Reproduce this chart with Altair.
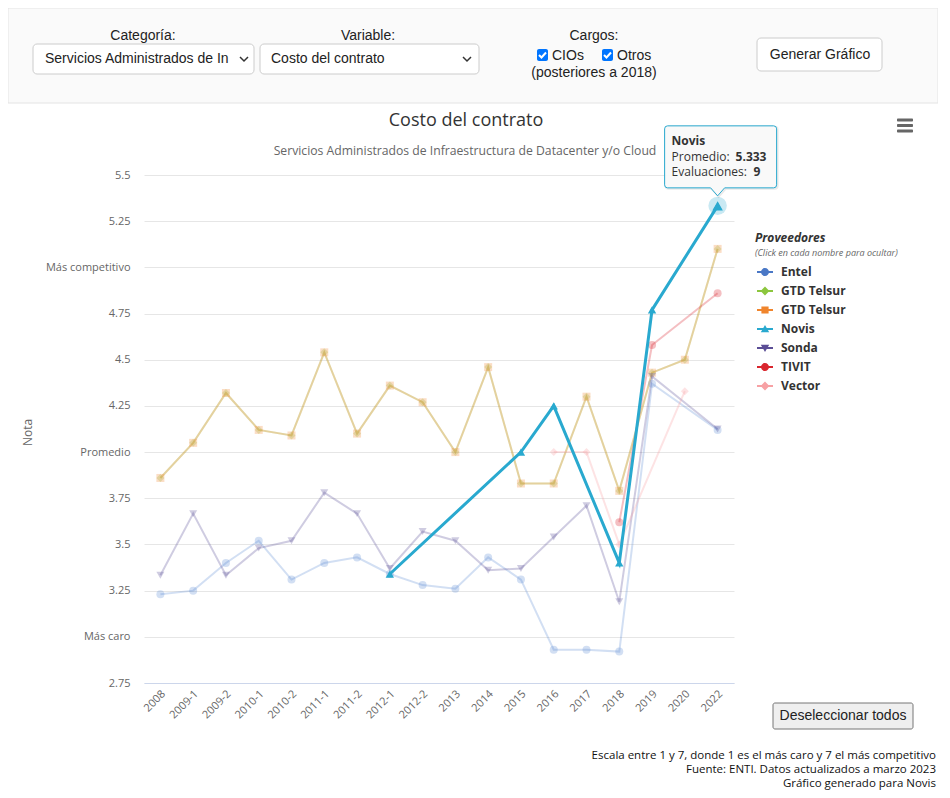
import altair as alt
import pandas as pd

# ---------------- data ----------------
categorias = ["2008", "2009-1", "2009-2", "2010-1", "2010-2", "2011-1", "2011-2",
              "2012-1", "2012-2", "2013", "2014", "2015", "2016", "2017", "2018",
              "2019", "2020", "2022"]
N = None
entel = [3.23, 3.25, 3.40, 3.52, 3.31, 3.40, 3.43, 3.34, 3.28, 3.26, 3.43, 3.31,
         2.93, 2.93, 2.92, 4.37, N, 4.12]
# the green GTD Telsur series lies exactly under the orange one in the picture
gtd_telsur_verde = [3.86, 4.05, 4.32, 4.12, 4.09, 4.54, 4.10, 4.36, 4.27, 4.00, 4.46, 3.83,
                    3.83, 4.30, 3.79, 4.43, 4.50, 5.10]
gtd_telsur_naranja = [3.86, 4.05, 4.32, 4.12, 4.09, 4.54, 4.10, 4.36, 4.27, 4.00, 4.46, 3.83,
                      3.83, 4.30, 3.79, 4.43, 4.50, 5.10]
novis = [N, N, N, N, N, N, N, 3.34, N, N, N, 4.00, 4.25, N, 3.40, 4.77, N, 5.333]
sonda = [3.333, 3.667, 3.333, 3.48, 3.52, 3.78, 3.667, 3.37, 3.57, 3.52, 3.36, 3.37,
         3.54, 3.71, 3.19, 4.41, N, 4.125]
tivit = [N, N, N, N, N, N, N, N, N, N, N, N, N, N, 3.62, 4.58, N, 4.86]
vector = [N, N, N, N, N, N, N, N, N, N, N, N, 4.00, 4.00, 3.50, N, 4.33, N]
novis_evaluaciones_2022 = 9

claves = ["Entel", "GTD Telsur", "GTD Telsur 2", "Novis", "Sonda", "TIVIT", "Vector"]
series = [entel, gtd_telsur_verde, gtd_telsur_naranja, novis, sonda, tivit, vector]
y_ticks = [2.75, 3.0, 3.25, 3.5, 3.75, 4.0, 4.25, 4.5, 4.75, 5.0, 5.25, 5.5]

# ---------------- styles ----------------
colores = ["#4a78c6", "#8cc63e", "#f0852d", "#29a9cf", "#5b4e96", "#d9262e", "#f7a1a4"]
faded_colores = ["#5a8ad4", "#8cc63e", "#f0852d", "#29a9cf", "#5b4e96", "#d9262e", "#f7a1a4"]
formas = ["circle", "diamond", "square", "triangle-up", "triangle-down", "circle", "diamond"]
opacidades = [0.27, 0.3, 0.32, 1.0, 0.28, 0.35, 0.3]
# legend symbols: line + marker (unit coordinates)
BAR = "M-2,-0.25 H2 V0.25 H-2 Z "
leg_paths = [
    BAR + "M0,-1 A1,1 0 1,1 0,1 A1,1 0 1,1 0,-1 Z",
    BAR + "M0,-1.1 L1.1,0 L0,1.1 L-1.1,0 Z",
    BAR + "M-0.9,-0.9 H0.9 V0.9 H-0.9 Z",
    BAR + "M0,-1 L1.05,0.8 L-1.05,0.8 Z",
    BAR + "M-1.05,-0.8 H1.05 L0,1 Z",
    BAR + "M0,-1 A1,1 0 1,1 0,1 A1,1 0 1,1 0,-1 Z",
    BAR + "M0,-1.1 L1.1,0 L0,1.1 L-1.1,0 Z",
]
FONT = "Open Sans"
UIF = "Liberation Sans"
OX, OY = 144, 175          # page position of plot origin
W, H = 590, 508


def X(p):
    return p - OX


def Y(p):
    return p - OY


rows = []
for k, vals in zip(claves, series):
    for i, (c, v) in enumerate(zip(categorias, vals)):
        if v is not None:
            rows.append({"serie": k, "cat": c, "valor": v, "orden": i})
df = pd.DataFrame(rows)
df_f = df[df["serie"] != "Novis"]
df_n = df[df["serie"] == "Novis"]
df_h = df_n[df_n["cat"] == "2022"].copy()
df_h["evaluaciones"] = novis_evaluaciones_2022

one = pd.DataFrame({"k": [0]})

y_label_expr = ("datum.value == 3 ? 'Más caro' : datum.value == 4 ? 'Promedio' : "
                "datum.value == 5 ? 'Más competitivo' : datum.value + ''")

x_enc = alt.X("cat:O",
              scale=alt.Scale(type="point", domain=categorias, padding=0.5),
              axis=alt.Axis(title=None, labelAngle=315, labelAlign="right",
                            labelBaseline="middle", labelPadding=9, labelOffset=3,
                            labelFont=FONT, labelFontSize=11, labelColor="#666666",
                            domainColor="#ccd6eb", domainWidth=1, ticks=False,
                            grid=False))
y_enc = alt.Y("valor:Q",
              scale=alt.Scale(domain=[2.75, 5.5], nice=False, zero=False),
              axis=alt.Axis(values=y_ticks, labelExpr=y_label_expr, title="Nota",
                            titleX=X(27), titleY=Y(432), titleAngle=270,
                            titleBaseline="middle", titleAlign="center",
                            titleFont=FONT, titleFontSize=12, titleFontWeight="normal",
                            titleColor="#666666", labelFont=FONT, labelFontSize=11,
                            labelColor="#666666", labelPadding=14, domain=False,
                            ticks=False, grid=True, gridColor="#e6e6e6", gridWidth=1))

col_f = alt.Color("serie:N", scale=alt.Scale(domain=claves, range=faded_colores), legend=None)
op_f = alt.Opacity("serie:N", scale=alt.Scale(domain=claves, range=opacidades), legend=None)
sh_f = alt.Shape("serie:N", scale=alt.Scale(domain=claves, range=formas), legend=None)

faded_lines = alt.Chart(df_f).mark_line(strokeWidth=2).encode(
    x=x_enc, y=y_enc, color=col_f, opacity=op_f, detail="serie:N", order="orden:Q")
faded_pts = alt.Chart(df_f).mark_point(filled=True, size=64).encode(
    x=x_enc, y=y_enc, color=col_f, opacity=op_f, shape=sh_f)

novis_line = alt.Chart(df_n).mark_line(strokeWidth=3, color=colores[3], opacity=1).encode(
    x=x_enc, y=y_enc, order="orden:Q")
novis_pts = alt.Chart(df_n).mark_point(filled=True, shape="triangle-up", size=70,
                                       color=colores[3], opacity=1).encode(x=x_enc, y=y_enc)
halo = alt.Chart(df_h).mark_point(filled=True, shape="circle", size=340,
                                  color=colores[3], opacity=0.25).encode(x=x_enc, y=y_enc)
hover_pt = alt.Chart(df_h).mark_point(filled=True, shape="triangle-up", size=110,
                                      color=colores[3], opacity=1).encode(x=x_enc, y=y_enc)

callout_path = ("M-50,-80 H56 Q59,-80 59,-77 V-21 Q59,-18 56,-18 H7 L0,-10 L-7,-18 "
                "H-50 Q-53,-18 -53,-21 V-77 Q-53,-80 -50,-80 Z")
shadow_path = ("M-49,-79 H57 Q60,-79 60,-76 V-20 Q60,-17 57,-17 H8 L1,-9 L-6,-17 "
               "H-49 Q-52,-17 -52,-20 V-76 Q-52,-79 -49,-79 Z")
shadow = alt.Chart(df_h).mark_point(shape=shadow_path, size=4, filled=False,
                                    stroke="#000000", strokeWidth=2, opacity=0.08).encode(
    x=x_enc, y=y_enc)
callout = alt.Chart(df_h).mark_point(shape=callout_path, size=4, filled=True,
                                     fill="#f9f9f9", stroke=colores[3], strokeWidth=1,
                                     opacity=1, fillOpacity=0.95).encode(x=x_enc, y=y_enc)
TDX = -46
tt1 = alt.Chart(df_h).mark_text(align="left", baseline="middle", dx=TDX, dy=-65,
                                font=FONT, fontSize=12, fontWeight="bold",
                                color="#333333").encode(x=x_enc, y=y_enc, text="serie:N")
tt2a = alt.Chart(df_h).mark_text(align="left", baseline="middle", dx=TDX, dy=-49,
                                 font=FONT, fontSize=12, color="#333333",
                                 text="Promedio:").encode(x=x_enc, y=y_enc)
tt2b = alt.Chart(df_h).mark_text(align="left", baseline="middle", dx=TDX + 64, dy=-49,
                                 font=FONT, fontSize=12, fontWeight="bold",
                                 color="#333333").encode(
    x=x_enc, y=y_enc, text=alt.Text("valor:Q", format=".3f"))
tt3a = alt.Chart(df_h).mark_text(align="left", baseline="middle", dx=TDX, dy=-34,
                                 font=FONT, fontSize=12, color="#333333",
                                 text="Evaluaciones:").encode(x=x_enc, y=y_enc)
tt3b = alt.Chart(df_h).mark_text(align="left", baseline="middle", dx=TDX + 82, dy=-34,
                                 font=FONT, fontSize=12, fontWeight="bold",
                                 color="#333333").encode(
    x=x_enc, y=y_enc, text="evaluaciones:Q")

leg = alt.Legend(title="Proveedores", orient="none", legendX=X(755), legendY=Y(233),
                 titleFont=FONT, titleFontSize=12, titleFontStyle="italic",
                 titleFontWeight="bold", titleColor="#333333", titlePadding=21,
                 labelFont=FONT, labelFontSize=12, labelFontWeight="bold",
                 labelColor="#333333", symbolSize=64, symbolOffset=4, labelOffset=10,
                 rowPadding=7, symbolStrokeWidth=0, symbolOpacity=1,
                 labelExpr="datum.label == 'GTD Telsur 2' ? 'GTD Telsur' : datum.label")
leg_df = pd.DataFrame({"Proveedores": claves})
legend_layer = alt.Chart(leg_df).mark_point(filled=True, opacity=1).encode(
    color=alt.Color("Proveedores:N", scale=alt.Scale(domain=claves, range=colores), legend=leg),
    shape=alt.Shape("Proveedores:N", scale=alt.Scale(domain=claves, range=leg_paths), legend=leg),
).transform_filter("false")


# ---------------- page decorations (text, controls) ----------------
def texto(s, xp, yp, size=12, color="#333333", align="left", bold=False,
          italic=False, font=FONT):
    return alt.Chart(one).mark_text(
        text=s, align=align, baseline="middle", fontSize=size, color=color, font=font,
        fontWeight="bold" if bold else "normal",
        fontStyle="italic" if italic else "normal").encode(
        x=alt.value(X(xp)), y=alt.value(Y(yp)))


def caja(x1, y1, x2, y2, fill, stroke=None, r=0, sw=1):
    kw = dict(fill=fill, cornerRadius=r)
    if stroke is not None:
        kw["stroke"] = stroke
        kw["strokeWidth"] = sw
    return alt.Chart(one).mark_rect(**kw).encode(
        x=alt.value(X(x1)), x2=alt.value(X(x2)), y=alt.value(Y(y1)), y2=alt.value(Y(y2)))


def trazo(path, xp, yp, color, sw=1.5):
    return alt.Chart(one).mark_point(shape=path, size=4, filled=False, stroke=color,
                                     strokeWidth=sw, opacity=1).encode(
        x=alt.value(X(xp)), y=alt.value(Y(yp)))


deco = [
    caja(8, 8, 938, 103, "#fafafa", "#e4e4e4"),
    texto("Categoría:", 143, 36, 14, "#222222", "center", font=UIF),
    caja(33, 44, 254, 74, "#ffffff", "#cccccc", 4),
    texto("Servicios Administrados de In", 45, 59, 14, "#222222", font=UIF),
    trazo("M-4,-2 L0,2 L4,-2", 244, 59, "#333333"),
    texto("Variable:", 368, 36, 14, "#222222", "center", font=UIF),
    caja(260, 44, 479, 74, "#ffffff", "#cccccc", 4),
    texto("Costo del contrato", 271, 59, 14, "#222222", font=UIF),
    trazo("M-4,-2 L0,2 L4,-2", 467, 59, "#333333"),
    texto("Cargos:", 594, 36, 14, "#222222", "center", font=UIF),
    caja(537, 49, 548, 61, "#0075ff", r=2),
    trazo("M-3.5,0 L-1,2.5 L3.5,-2.5", 542.5, 55, "#ffffff", 2),
    texto("CIOs", 552, 56, 14, "#222222", font=UIF),
    caja(602, 49, 613, 61, "#0075ff", r=2),
    trazo("M-3.5,0 L-1,2.5 L3.5,-2.5", 607.5, 55, "#ffffff", 2),
    texto("Otros", 617, 56, 14, "#222222", font=UIF),
    texto("(posteriores a 2018)", 594, 73, 14, "#222222", "center", font=UIF),
    caja(757, 38, 882, 71, "#ffffff", "#cccccc", 4),
    texto("Generar Gráfico", 820, 55, 14, "#222222", "center", font=UIF),
    texto("Costo del contrato", 466, 121, 18, "#333333", "center"),
    texto("Servicios Administrados de Infraestructura de Datacenter y/o Cloud", 465, 151,
          12.2, "#666666", "center"),
    caja(897, 118.5, 913, 121.5, "#666666", r=1),
    caja(897, 124, 913, 127, "#666666", r=1),
    caja(897, 129.5, 913, 132.5, "#666666", r=1),
    texto("(Click en cada nombre para ocultar)", 755, 253, 9, "#666666", italic=True),
    caja(773, 703, 913, 729, "#efefef", "#767676", 2),
    texto("Deseleccionar todos", 843, 716, 14, "#222222", "center", font=UIF),
    texto("Escala entre 1 y 7, donde 1 es el más caro y 7 el más competitivo", 936, 756,
          11.5, "#111111", "right"),
    texto("Fuente: ENTI. Datos actualizados a marzo 2023", 936, 770, 11.5, "#111111", "right"),
    texto("Gráfico generado para Novis", 936, 784, 11.5, "#111111", "right"),
]

chart = alt.layer(
    deco[0], faded_lines, faded_pts, novis_line, novis_pts, halo, hover_pt,
    shadow, callout, tt1, tt2a, tt2b, tt3a, tt3b, legend_layer, *deco[1:]
).resolve_scale(
    color="independent", shape="independent", opacity="independent"
).properties(
    width=W, height=H,
    autosize=alt.AutoSizeParams(type="none"),
    padding={"left": OX - 8, "top": OY - 8, "right": 930 - (OX - 8) - W,
             "bottom": 782 - (OY - 8) - H},
).configure_view(strokeOpacity=0)

chart.save("out.html", embed_options={"renderer": "svg", "actions": False})
